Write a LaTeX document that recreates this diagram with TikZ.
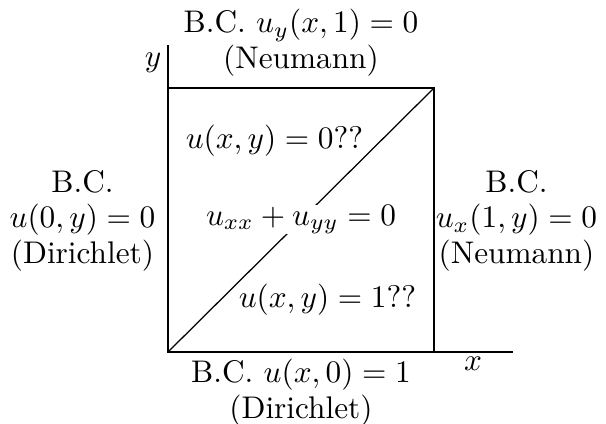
\documentclass[tikz,border=0pt]{standalone}
\begin{document}
\begin{tikzpicture}[x=0.3195pt,y=-0.3195pt,
  lbl/.style={align=center,font=\fontsize{10}{11.2}\selectfont,inner sep=0pt},
  txt/.style={inner sep=0pt,anchor=base},
  boxline/.style={line width=0.65pt},
  thinline/.style={line width=0.4pt}]
\useasboundingbox (0,0) rectangle (606,423);
\coordinate (O) at (168,352);
\coordinate (A) at (434,352);
\coordinate (B) at (434,88);
\coordinate (C) at (168,88);
\coordinate (xend) at (513,352);
\coordinate (yend) at (168,45);
% axes
\draw[thinline] (O) -- (xend);
\draw[thinline] (O) -- (yend);
% diagonal
\draw[thinline] (O) -- (B);
% square
\draw[boxline] (O) -- (A) -- (B) -- (C) -- cycle;
% inner texts
\node[txt] (u0) at (274.5,148) {$u(x,y)=0??$};
\node[txt,fill=white] (pde) at (301,225) {$u_{xx}+u_{yy}=0$};
\node[txt] (u1) at (327.5,307) {$u(x,y)=1??$};
% axis labels
\node[txt] (xl) at (473,370) {$x$};
\node[txt] (yl) at (153,66) {$y$};
% boundary labels (base anchor = baseline of last line)
\node[lbl,anchor=base] (top) at (301,68) {B.C. $u_y(x,1)=0$\\(Neumann)};
\node[lbl,anchor=base] (bot) at (301,418) {B.C. $u(x,0)=1$\\(Dirichlet)};
\node[lbl,anchor=base] (left) at (82.5,263) {B.C.\\$u(0,y)=0$\\(Dirichlet)};
\node[lbl,anchor=base] (right) at (516.5,263) {B.C.\\$u_x(1,y)=0$\\(Neumann)};
\end{tikzpicture}
\end{document}
